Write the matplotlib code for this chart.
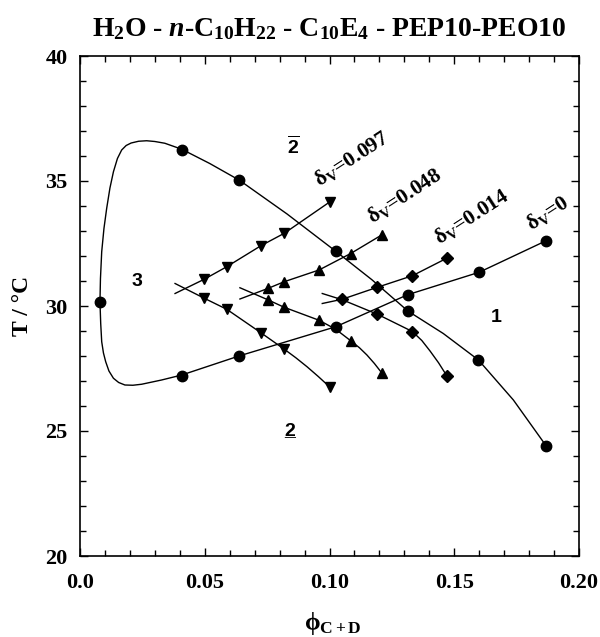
import matplotlib
matplotlib.use("Agg")
import matplotlib.pyplot as plt
from matplotlib.ticker import MultipleLocator

plt.rcParams.update({
    "font.family": ["Liberation Serif", "DejaVu Serif"],
    "font.weight": "bold",
    "mathtext.fontset": "custom",
    "mathtext.rm": "Liberation Serif:bold",
    "mathtext.it": "Liberation Serif:bold:italic",
    "mathtext.bf": "Liberation Serif:bold",
    "mathtext.sf": "Liberation Sans:bold",
})

# ─── DATA ─────────────────────────────────────────────────────────────────────
# delta_V = 0 : fitted fish boundary (traced line) and measured points
fish_up_x = [0.0080, 0.0082, 0.0087, 0.0096, 0.0107, 0.0120, 0.0134, 0.0150, 0.0167,
             0.0185, 0.0205, 0.0235, 0.0267, 0.0300, 0.0340, 0.0408, 0.0520, 0.0639,
             0.0830, 0.1025, 0.1170, 0.1314, 0.1456, 0.1597, 0.1737, 0.1868]
fish_up_y = [30.17, 31.10, 32.17, 33.10, 33.91, 34.72, 35.37, 35.90, 36.24,
             36.42, 36.52, 36.59, 36.61, 36.58, 36.51, 36.27, 35.70, 35.03,
             33.68, 32.19, 31.05, 29.80, 28.90, 27.84, 26.24, 24.41]
fish_lo_x = [0.0080, 0.0083, 0.0087, 0.0094, 0.0103, 0.0116, 0.0134, 0.0155, 0.0180,
             0.0212, 0.0247, 0.0327, 0.0408, 0.0637, 0.1025, 0.1313, 0.1600, 0.1866]
fish_lo_y = [30.17, 29.30, 28.57, 28.12, 27.77, 27.40, 27.11, 26.94, 26.84,
             26.83, 26.87, 27.04, 27.24, 28.00, 29.17, 30.45, 31.35, 32.60]
pts0_x = [0.0080, 0.0410, 0.0639, 0.1025, 0.1314, 0.1597, 0.1867,
          0.0410, 0.0637, 0.1025, 0.1313, 0.1600, 0.1866]
pts0_y = [30.17, 36.23, 35.03, 32.19, 29.80, 27.83, 24.41,
          27.22, 28.00, 29.17, 30.45, 31.35, 32.60]

# delta_V = 0.014 (diamonds)
d014_up_x = [0.0971, 0.1051, 0.1192, 0.1332, 0.1470]
d014_up_y = [30.10, 30.27, 30.75, 31.21, 31.91]
d014_lo_x = [0.0971, 0.1051, 0.1192, 0.1332, 0.1370, 0.1403, 0.1437, 0.1470]
d014_lo_y = [30.50, 30.25, 29.67, 28.98, 28.62, 28.20, 27.73, 27.21]
d014_pts_x = [0.1051, 0.1192, 0.1332, 0.1470, 0.1192, 0.1332, 0.1470]
d014_pts_y = [30.27, 30.75, 31.21, 31.91, 29.67, 28.98, 27.21]

# delta_V = 0.048 (up triangles)
d048_up_x = [0.0641, 0.0755, 0.0818, 0.0958, 0.1085, 0.1209]
d048_up_y = [30.28, 30.71, 30.97, 31.44, 32.10, 32.84]
d048_lo_x = [0.0641, 0.0755, 0.0818, 0.0958, 0.1025, 0.1085, 0.1120, 0.1150, 0.1180, 0.1209]
d048_lo_y = [30.73, 30.24, 29.95, 29.43, 29.07, 28.61, 28.33, 28.04, 27.70, 27.33]
d048_pts_x = [0.0755, 0.0818, 0.0958, 0.1085, 0.1209, 0.0755, 0.0818, 0.0958, 0.1085, 0.1209]
d048_pts_y = [30.71, 30.97, 31.44, 32.10, 32.84, 30.24, 29.95, 29.43, 28.61, 27.33]

# delta_V = 0.097 (down triangles)
d097_up_x = [0.0381, 0.0498, 0.0588, 0.0725, 0.0819, 0.1002]
d097_up_y = [30.50, 31.07, 31.57, 32.41, 32.91, 34.17]
d097_lo_x = [0.0381, 0.0498, 0.0588, 0.0725, 0.0819, 0.0865, 0.0910, 0.0955, 0.1002]
d097_lo_y = [30.90, 30.31, 29.87, 28.93, 28.27, 27.93, 27.57, 27.18, 26.75]
d097_pts_x = [0.0498, 0.0588, 0.0725, 0.0819, 0.1002, 0.0498, 0.0588, 0.0725, 0.0819, 0.1002]
d097_pts_y = [31.07, 31.57, 32.41, 32.91, 34.17, 30.31, 29.87, 28.93, 28.27, 26.75]

# ─── PLOT ─────────────────────────────────────────────────────────────────────
fig = plt.figure(figsize=(6.0, 6.37), dpi=100)
ax = fig.add_axes([80 / 600, 1 - 556 / 637, 499 / 600, 500 / 637])

lw = 1.0
for xs, ys in [(fish_up_x, fish_up_y), (fish_lo_x, fish_lo_y),
               (d014_up_x, d014_up_y), (d014_lo_x, d014_lo_y),
               (d048_up_x, d048_up_y), (d048_lo_x, d048_lo_y),
               (d097_up_x, d097_up_y), (d097_lo_x, d097_lo_y)]:
    ax.plot(xs, ys, color="black", lw=lw, zorder=2, solid_joinstyle="round")

ax.plot(pts0_x, pts0_y, "o", color="black", ms=7.5, zorder=3)
ax.plot(d014_pts_x, d014_pts_y, "D", color="black", ms=6, zorder=3)
ax.plot(d048_pts_x, d048_pts_y, "^", color="black", ms=7.5, zorder=3)
ax.plot(d097_pts_x, d097_pts_y, "v", color="black", ms=7.5, zorder=3)

ax.set_xlim(0, 0.20)
ax.set_ylim(20, 40)
ax.xaxis.set_major_locator(MultipleLocator(0.05))
ax.xaxis.set_minor_locator(MultipleLocator(0.01))
ax.yaxis.set_major_locator(MultipleLocator(5))
ax.yaxis.set_minor_locator(MultipleLocator(1))
ax.set_xticks([0, 0.05, 0.10, 0.15, 0.20])
ax.set_xticklabels(["0.0", "0.05", "0.10", "0.15", "0.20"])
ax.tick_params(which="both", direction="in", top=True, right=True, width=1.0,
               labelsize=16)
ax.tick_params(axis="x", which="major", pad=12)
ax.tick_params(axis="y", which="major", pad=9)
ax.tick_params(which="major", length=6)
ax.tick_params(which="minor", length=4)
for s in ax.spines.values():
    s.set_linewidth(1.2)

ax.set_ylabel("T / °C", fontsize=17, fontweight="bold")
ax.yaxis.set_label_coords((33 - 80) / 499, 0.5)
ax.set_xlabel(r"ϕ$_\mathrm{C+D}$", fontsize=18, fontweight="bold")
ax.xaxis.set_label_coords((333 - 80) / 499, (556 - 610) / 500)

fig.text(0.549, 1 - 29 / 637, r"H$_\mathrm{2}$O - $\mathit{n}$-C$_\mathrm{10}$H$_\mathrm{22}$"
         r" - C$_\mathrm{10}$E$_\mathrm{4}$ - PEP10-PEO10",
         ha="center", va="center", fontsize=20, fontweight="bold")

sans = ["Liberation Sans", "DejaVu Sans"]
txt = dict(family=sans, fontweight="bold", fontsize=14, ha="center", va="center")
ax.text(0.0230, 31.0, "3", **txt)
ax.text(0.0854, 36.4, r"$\mathsf{\overline{2}}$", **txt)
ax.text(0.0839, 24.8, "2", family=sans, fontweight="bold", fontsize=14,
        ha="center", va="baseline")
ax.text(0.0839, 24.8, "_", family=sans, fontweight="bold", fontsize=14,
        ha="center", va="baseline")
ax.text(0.1667, 29.55, "1", **txt)

lab = dict(fontweight="bold", fontsize=15.5, ha="center", va="center", rotation=33)
ax.text(0.1090, 35.88, r"δ$_\mathrm{V}$=0.097", **lab)
ax.text(0.1300, 34.40, r"δ$_\mathrm{V}$=0.048", **lab)
ax.text(0.1570, 33.57, r"δ$_\mathrm{V}$=0.014", **lab)
ax.text(0.1874, 33.74, r"δ$_\mathrm{V}$=0", **lab)

fig.savefig("out.png", dpi=100)
